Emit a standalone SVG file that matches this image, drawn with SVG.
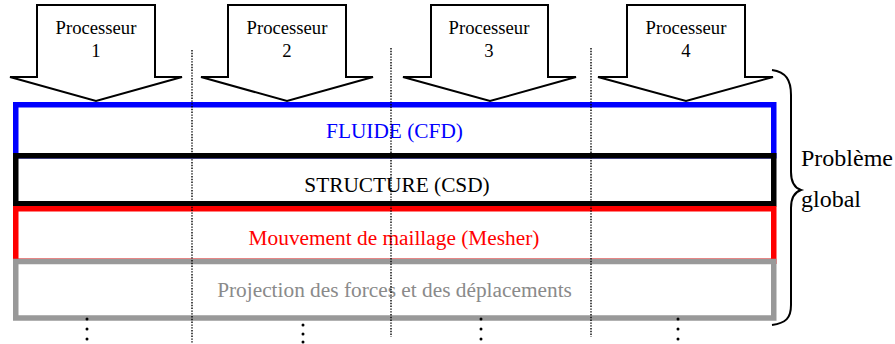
<svg xmlns="http://www.w3.org/2000/svg" width="895" height="344" viewBox="0 0 895 344">
<style>
  .arrow { fill: #ffffff; stroke: #000000; stroke-width: 2; stroke-linejoin: miter; }
  .ptext { font-family: 'Liberation Serif', 'DejaVu Serif', serif; font-size: 18.67px; fill: #000000; text-anchor: middle; }
  .layer { fill: none; stroke-width: 5.5; }
  .ltext { font-family: 'Liberation Serif', 'DejaVu Serif', serif; font-size: 21.33px; text-anchor: middle; }
  .sep { stroke: #000000; stroke-width: 1.4; stroke-dasharray: 1.4 1.4; fill: none; }
  .dot { fill: #000000; }
  .gtext { font-family: 'Liberation Serif', 'DejaVu Serif', serif; font-size: 24px; fill: #000000; }
</style>
<rect width="895" height="344" fill="#ffffff"/>

<g id="proc1">
  <polygon class="arrow" points="37,5 155,5 155,77 182,77 96,101 10,77 37,77"/>
  <text class="ptext" x="96" y="34">Processeur</text>
  <text class="ptext" x="96" y="57">1</text>
</g>
<g id="proc2">
  <polygon class="arrow" points="228,5 346,5 346,77 373,77 287,101 201,77 228,77"/>
  <text class="ptext" x="287" y="34">Processeur</text>
  <text class="ptext" x="287" y="57">2</text>
</g>
<g id="proc3">
  <polygon class="arrow" points="431,5 548,5 548,77 576,77 490,101 403,77 431,77"/>
  <text class="ptext" x="489" y="34">Processeur</text>
  <text class="ptext" x="489" y="57">3</text>
</g>
<g id="proc4">
  <polygon class="arrow" points="627,5 745,5 745,77 773,77 686,101 598,77 627,77"/>
  <text class="ptext" x="686" y="34">Processeur</text>
  <text class="ptext" x="686" y="57">4</text>
</g>

<g id="fluide">
  <rect class="layer" x="15.75" y="104.75" width="758" height="51" stroke="#0000ff"/>
  <text class="ltext" x="394.5" y="138" fill="#0000ff">FLUIDE (CFD)</text>
</g>
<g id="structure">
  <rect class="layer" x="15.75" y="155.75" width="758" height="48" stroke="#000000"/>
  <text class="ltext" x="397" y="192" fill="#000000">STRUCTURE (CSD)</text>
</g>
<g id="mesher">
  <rect class="layer" x="15.75" y="208.75" width="758" height="52.5" stroke="#ff0000"/>
  <text class="ltext" x="394" y="245" fill="#ff0000">Mouvement de maillage (Mesher)</text>
</g>
<g id="projection">
  <rect class="layer" x="15.75" y="261.5" width="758" height="56.5" stroke="#999999"/>
  <text class="ltext" x="394.5" y="297" fill="#8a8a8a">Projection des forces et des déplacements</text>
</g>

<g id="separators">
  <line class="sep" x1="192" y1="50" x2="192" y2="344"/>
  <line class="sep" x1="391" y1="48" x2="391" y2="337"/>
  <line class="sep" x1="591" y1="48" x2="591" y2="337"/>
</g>

<g id="continuation">
  <circle class="dot" cx="87" cy="319" r="1.5"/>
  <circle class="dot" cx="87" cy="329" r="1.5"/>
  <circle class="dot" cx="87" cy="339" r="1.5"/>
  <circle class="dot" cx="303" cy="325" r="1.5"/>
  <circle class="dot" cx="303" cy="334" r="1.5"/>
  <circle class="dot" cx="303" cy="342" r="1.5"/>
  <circle class="dot" cx="481" cy="319" r="1.5"/>
  <circle class="dot" cx="481" cy="329" r="1.5"/>
  <circle class="dot" cx="481" cy="339" r="1.5"/>
  <circle class="dot" cx="678" cy="319" r="1.5"/>
  <circle class="dot" cx="678" cy="329" r="1.5"/>
  <circle class="dot" cx="678" cy="339" r="1.5"/>
</g>

<g id="global">
  <path d="M772,70 C786,72 791,80 791,95 L791,172 C791,182 795,188 801,190 C795,192 791,198 791,208 L791,305 C791,318 786,323 772,325" fill="none" stroke="#000000" stroke-width="2"/>
  <text class="gtext" x="801" y="166">Problème</text>
  <text class="gtext" x="801" y="207">global</text>
</g>
</svg>
